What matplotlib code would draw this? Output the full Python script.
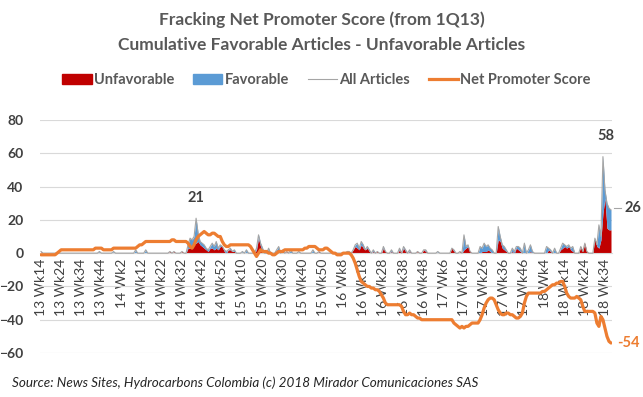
import numpy as np
import matplotlib
matplotlib.use('Agg')
import matplotlib.pyplot as plt
from matplotlib.patches import Patch
from matplotlib.lines import Line2D

plt.rcParams['font.family'] = ['Lato', 'DejaVu Sans']

# semanas: 13 Wk14 ... 18 Wk37 (52 semanas por año)
weeks = []
for yy, w0, w1 in [(13, 14, 52), (14, 1, 52), (15, 1, 52), (16, 1, 52), (17, 1, 52), (18, 1, 37)]:
    for wk in range(w0, w1 + 1):
        weeks.append(f"{yy} Wk{wk}")

# articulos desfavorables por semana
unfavorable = [
    1, 0, 0, 0, 0, 0, 0, 0, 0, 0,
    0, 0, 0, 0, 0, 0, 0, 0, 0, 0,
    0, 0, 0, 0, 0, 0, 0, 0, 0, 0,
    0, 0, 0, 0, 0, 0, 0, 0, 0, 0,
    0, 0, 0, 0, 0, 0, 0, 0, 0, 0,
    0, 0, 0, 0, 0, 0, 0, 0, 0, 0,
    0, 0, 0, 0, 1, 0, 1, 0, 0, 0,
    1, 0, 0, 3, 3, 5, 6, 6, 7, 5,
    4, 3, 2, 1, 3, 3, 2, 3, 2, 4,
    4, 1, 0, 2, 2, 1, 1, 0, 0, 0,
    0, 0, 0, 0, 0, 0, 0, 2, 9, 4,
    1, 0, 0, 1, 0, 0, 0, 0, 1, 0,
    1, 0, 1, 0, 0, 0, 0, 0, 0, 0,
    0, 0, 0, 0, 0, 0, 0, 0, 1, 0,
    0, 0, 0, 0, 0, 0, 0, 0, 0, 0,
    0, 0, 1, 1, 0, 2, 4, 3, 2, 5,
    3, 2, 3, 1, 0, 1, 0, 1, 0, 0,
    3, 1, 0, 0, 1, 0, 0, 0, 2, 0,
    3, 1, 0, 1, 0, 0, 0, 1, 0, 0,
    2, 1, 0, 0, 0, 0, 0, 0, 0, 0,
    0, 0, 0, 0, 3, 1, 0, 0, 1, 0,
    2, 3, 4, 1, 0, 0, 0, 0, 0, 1,
    1, 1, 2, 1, 0, 0, 0, 8, 7, 3,
    2, 1, 0, 0, 1, 0, 3, 2, 1, 0,
    0, 0, 0, 1, 0, 0, 0, 0, 0, 0,
    0, 0, 2, 1, 0, 0, 0, 0, 2, 3,
    4, 3, 4, 2, 1, 0, 0, 0, 4, 1,
    6, 1, 0, 0, 0, 9, 4, 3, 8, 24,
    33, 15, 14, 14,
]

# articulos favorables por semana
favorable = [
    0, 0, 0, 0, 0, 0, 0, 0, 0, 0,
    0, 0, 0, 0, 0, 0, 0, 0, 0, 0,
    0, 0, 0, 0, 0, 0, 0, 0, 0, 1,
    0, 0, 0, 0, 0, 0, 1, 0, 0, 0,
    0, 0, 0, 0, 0, 0, 0, 2, 0, 0,
    0, 0, 2, 0, 0, 0, 0, 0, 0, 0,
    0, 0, 0, 0, 0, 0, 0, 0, 0, 0,
    0, 0, 0, 2, 6, 3, 4, 15, 5, 2,
    2, 2, 1, 1, 1, 3, 2, 4, 1, 1,
    0, 1, 1, 0, 1, 0, 1, 0, 0, 0,
    1, 0, 2, 0, 0, 0, 0, 1, 2, 2,
    2, 0, 0, 2, 0, 0, 0, 2, 3, 0,
    1, 0, 0, 0, 2, 0, 0, 0, 1, 0,
    0, 0, 0, 0, 0, 2, 0, 0, 0, 0,
    0, 0, 0, 0, 0, 0, 0, 0, 0, 0,
    0, 0, 0, 0, 0, 0, 1, 3, 1, 2,
    2, 0, 1, 1, 0, 1, 0, 0, 0, 0,
    1, 0, 0, 0, 1, 0, 0, 0, 1, 0,
    1, 1, 0, 1, 0, 0, 0, 0, 0, 0,
    0, 1, 0, 0, 0, 0, 0, 1, 0, 0,
    0, 0, 0, 0, 0, 1, 0, 0, 0, 0,
    9, 1, 1, 0, 0, 0, 0, 0, 4, 2,
    5, 3, 3, 2, 2, 0, 0, 8, 3, 2,
    2, 1, 0, 0, 2, 1, 1, 2, 2, 0,
    6, 0, 2, 4, 1, 0, 0, 0, 0, 0,
    0, 4, 1, 1, 0, 3, 0, 0, 1, 3,
    1, 1, 1, 1, 3, 0, 0, 0, 0, 0,
    0, 0, 0, 0, 0, 0, 1, 14, 2, 34,
    5, 15, 13, 12,
]

# net promoter score acumulado
nps = [
    -1, -1, -1, -1, -1, -1, -1, -1, 0, 1,
    2, 2, 2, 2, 2, 2, 2, 2, 2, 2,
    2, 2, 2, 2, 2, 2, 2, 3, 3, 3,
    3, 2, 2, 2, 2, 2, 3, 3, 3, 3,
    3, 3, 3, 3, 3, 3, 3, 3, 4, 5,
    5, 6, 7, 7, 7, 7, 7, 7, 7, 7,
    7, 7, 7, 7, 7, 8, 8, 7, 7, 7,
    7, 7, 7, 6, 4, 3, 5, 8, 10, 11,
    12, 13, 12, 11, 11, 12, 12, 11, 10, 10,
    7, 5, 4, 4, 5, 5, 5, 5, 5, 5,
    5, 5, 5, 5, 4, 2, 0, -2, 0, 2,
    1, 1, 1, 0, 0, -1, -1, 0, 1, 1,
    1, 2, 2, 2, 2, 2, 2, 2, 2, 2,
    2, 3, 3, 4, 4, 4, 4, 3, 2, 2,
    2, 3, 3, 2, 1, 0, 0, -1, -1, -1,
    0, 0, 0, 0, -1, -3, -6, -10, -14, -17,
    -18, -19, -20, -20, -21, -21, -22, -22, -23, -25,
    -27, -30, -31, -31, -31, -31, -31, -31, -31, -32,
    -35, -37, -37, -36, -37, -37, -38, -39, -39, -40,
    -40, -40, -40, -40, -40, -40, -40, -40, -40, -40,
    -40, -40, -40, -40, -40, -42, -43, -44, -45, -44,
    -45, -44, -44, -43, -42, -42, -42, -42, -40, -37,
    -33, -30, -28, -27, -27, -28, -31, -34, -36, -37,
    -37, -36, -36, -37, -37, -38, -39, -39, -38, -36,
    -30, -26, -24, -24, -24, -24, -24, -24, -24, -23,
    -23, -22, -21, -20, -19, -19, -18, -18, -17, -17,
    -20, -24, -26, -27, -27, -27, -26, -27, -28, -32,
    -35, -35, -35, -35, -35, -36, -42, -44, -38, -40,
    -45, -50, -53, -54,
]

tick_every = 10
yticks = [-60, -40, -20, 0, 20, 40, 60, 80]

unf = np.array(unfavorable)
fav = np.array(favorable)
all_articles = unf + fav
x = np.arange(len(weeks))

fig = plt.figure(figsize=(6.43, 3.97), dpi=100)
ax = fig.add_axes([40 / 643, 1 - 353 / 397, 572 / 643, 233 / 397])

# areas apiladas
ax.fill_between(x, 0, unf, color='#C00000', lw=0, zorder=2)
ax.fill_between(x, unf, all_articles, color='#5B9BD5', lw=0, zorder=2)
ax.plot(x, all_articles, color='#A5A5A5', lw=0.8, zorder=3)
ax.plot(x, nps, color='#ED7D31', lw=2.3, zorder=4, solid_capstyle='round')

ax.set_xlim(-0.5, len(weeks) - 0.5)
ax.set_ylim(-60, 80)
ax.set_yticks(yticks)
ax.yaxis.grid(True, color='#D9D9D9', lw=0.8)
ax.set_axisbelow(True)
for s in ['top', 'right', 'left']:
    ax.spines[s].set_visible(False)
ax.spines['bottom'].set_position(('data', 0))
ax.spines['bottom'].set_color('#D9D9D9')

ax.set_xticks(x[::tick_every])
ax.set_xticklabels(weeks[::tick_every], rotation=90, va='top', ha='center')
ax.tick_params(axis='x', length=0, pad=4, labelsize=10, labelcolor='#404040')
ax.tick_params(axis='y', length=0, pad=12, labelsize=10, labelcolor='#404040')
for t in ax.get_yticklabels():
    t.set_fontweight('bold')

# etiquetas de datos
ax.text(77, 29, '21', ha='center', va='bottom', fontsize=10.5, fontweight='bold', color='#404040')
ax.text(280.5, 66, '58', ha='center', va='bottom', fontsize=10.5, fontweight='bold', color='#404040')
ax.plot([284.5, 288], [27, 27], color='#A5A5A5', lw=0.8, clip_on=False)
ax.text(289.5, 27, '26', ha='left', va='center', fontsize=10.5, fontweight='bold', color='#404040')
ax.text(286, -54, '-54', ha='left', va='center', fontsize=10.5, fontweight='bold', color='#ED7D31')

fig.text(0.5, 1 - 20 / 397, 'Fracking Net Promoter Score (from 1Q13)', ha='center', va='center',
         fontsize=12.5, fontweight='bold', color='#595959')
fig.text(0.5, 1 - 45 / 397, 'Cumulative Favorable Articles - Unfavorable Articles', ha='center', va='center',
         fontsize=12.5, fontweight='bold', color='#595959')

handles = [Patch(color='#C00000'), Patch(color='#5B9BD5'),
           Line2D([], [], color='#A5A5A5', lw=0.8), Line2D([], [], color='#ED7D31', lw=2.3)]
labels = ['Unfavorable', 'Favorable', 'All Articles', 'Net Promoter Score']
leg = fig.legend(handles, labels, loc='center', bbox_to_anchor=(508 / 1000 + 0.0, 1 - 80 / 397), ncol=4,
                 frameon=False, fontsize=10.5, handlelength=2.0, handleheight=0.7,
                 handletextpad=0.15, columnspacing=1.3)
for t in leg.get_texts():
    t.set_fontweight('bold')
    t.set_color('#595959')

fig.text(12 / 643, 1 - 383 / 397,
         'Source: News Sites, Hydrocarbons Colombia (c) 2018 Mirador Comunicaciones SAS',
         ha='left', va='center', fontsize=9.7, style='italic', color='#262626')

fig.savefig('out.png', dpi=100)
